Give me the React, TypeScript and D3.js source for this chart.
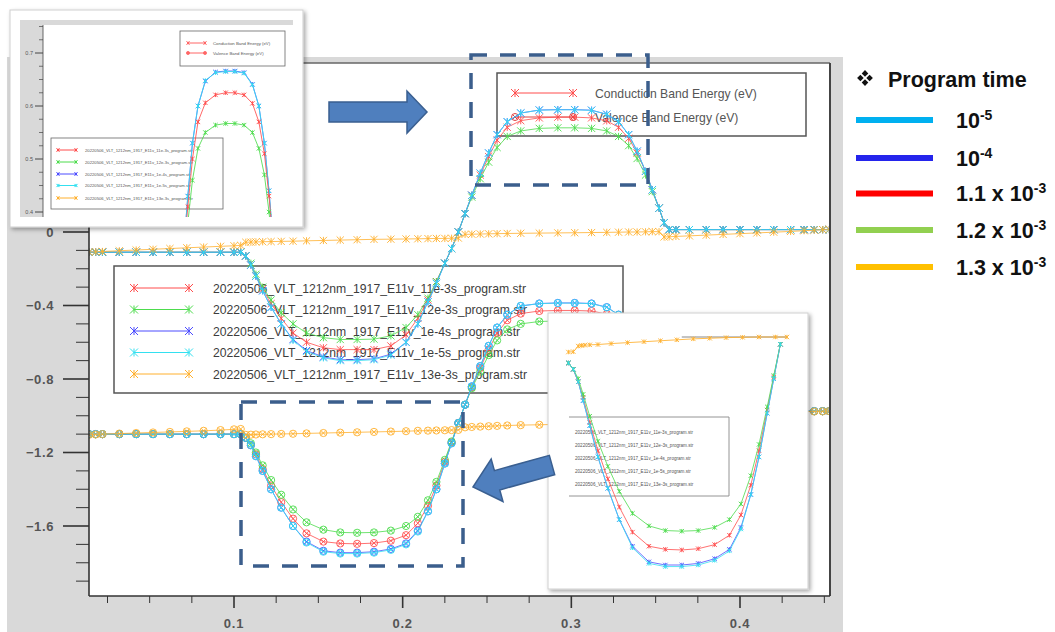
import React from 'react';
import * as d3 from 'd3';

// ---------------- DATA ----------------
const X_MESH = [0.014, 0.018, 0.022, 0.032, 0.042, 0.052, 0.062, 0.072, 0.082, 0.092, 0.1, 0.104,
  0.107, 0.11, 0.113, 0.117, 0.122, 0.128, 0.135, 0.143, 0.153, 0.163, 0.173, 0.183, 0.193, 0.202, 0.209, 0.215, 0.22, 0.225, 0.229, 0.233,
  0.237, 0.241, 0.246, 0.251, 0.256, 0.262, 0.27, 0.281, 0.292, 0.302, 0.312, 0.321, 0.328, 0.334, 0.339, 0.344, 0.348, 0.352, 0.355, 0.358,
  0.362, 0.37, 0.38, 0.39, 0.4, 0.41, 0.42, 0.43, 0.438, 0.444, 0.449, 0.453];

// Conduction band energy (eV)
const CB_11E3 = [-0.11, -0.11, -0.11, -0.11, -0.11, -0.11, -0.11, -0.11, -0.11, -0.11, -0.11, -0.11,
  -0.13, -0.18, -0.24, -0.31, -0.39, -0.47, -0.55, -0.6, -0.63, -0.64, -0.64, -0.64, -0.62, -0.56, -0.47, -0.37, -0.27, -0.17, -0.09, 0.0,
  0.1, 0.2, 0.31, 0.41, 0.5, 0.57, 0.606, 0.621, 0.625, 0.625, 0.621, 0.605, 0.57, 0.51, 0.43, 0.33, 0.23, 0.13, 0.05, 0.013,
  0.013, 0.013, 0.013, 0.013, 0.013, 0.013, 0.013, 0.013, 0.013, 0.013, 0.013, 0.013];
const CB_12E3 = [-0.11, -0.11, -0.11, -0.11, -0.11, -0.11, -0.11, -0.11, -0.11, -0.11, -0.11, -0.11,
  -0.13, -0.17, -0.23, -0.3, -0.37, -0.44, -0.5, -0.55, -0.575, -0.585, -0.585, -0.583, -0.565, -0.52, -0.45, -0.36, -0.27, -0.17, -0.09, 0.0,
  0.1, 0.19, 0.29, 0.38, 0.46, 0.52, 0.55, 0.564, 0.567, 0.567, 0.564, 0.55, 0.52, 0.47, 0.4, 0.31, 0.22, 0.13, 0.05, 0.013,
  0.013, 0.013, 0.013, 0.013, 0.013, 0.013, 0.013, 0.013, 0.013, 0.013, 0.013, 0.013];
const CB_1E4 = [-0.11, -0.11, -0.11, -0.11, -0.11, -0.11, -0.11, -0.11, -0.11, -0.11, -0.11, -0.11,
  -0.13, -0.18, -0.24, -0.32, -0.41, -0.5, -0.585, -0.645, -0.68, -0.695, -0.695, -0.69, -0.665, -0.6, -0.5, -0.38, -0.28, -0.17, -0.09, 0.0,
  0.1, 0.2, 0.32, 0.43, 0.53, 0.6, 0.647, 0.664, 0.666, 0.666, 0.663, 0.641, 0.6, 0.53, 0.44, 0.33, 0.23, 0.13, 0.05, 0.013,
  0.013, 0.013, 0.013, 0.013, 0.013, 0.013, 0.013, 0.013, 0.013, 0.013, 0.013, 0.013];
const CB_1E5 = [-0.11, -0.11, -0.11, -0.11, -0.11, -0.11, -0.11, -0.11, -0.11, -0.11, -0.11, -0.11,
  -0.13, -0.18, -0.24, -0.32, -0.41, -0.5, -0.59, -0.65, -0.685, -0.7, -0.7, -0.695, -0.67, -0.6, -0.5, -0.38, -0.28, -0.17, -0.09, 0.0,
  0.1, 0.2, 0.32, 0.43, 0.53, 0.6, 0.648, 0.663, 0.665, 0.665, 0.662, 0.64, 0.6, 0.53, 0.44, 0.33, 0.23, 0.13, 0.05, 0.013,
  0.013, 0.013, 0.013, 0.013, 0.013, 0.013, 0.013, 0.013, 0.013, 0.013, 0.013, 0.013];
const CB_13E3 = [-0.109, -0.108, -0.106, -0.102, -0.098, -0.094, -0.09, -0.086, -0.082, -0.078, -0.075, -0.073,
  -0.056, -0.055, -0.054, -0.053, -0.052, -0.051, -0.05, -0.048, -0.046, -0.044, -0.042, -0.04, -0.039, -0.038, -0.037, -0.036, -0.035, -0.035, -0.034, -0.033,
  -0.013, -0.012, -0.011, -0.01, -0.009, -0.008, -0.007, -0.006, -0.005, -0.004, -0.003, -0.002, -0.001, 0.0, 0.0, 0.001, 0.002, 0.002, -0.027, -0.026,
  -0.024, -0.021, -0.017, -0.013, -0.009, -0.005, -0.001, 0.003, 0.007, 0.01, 0.013, 0.015];

// Valence band energy (eV)
const VB_11E3 = [-1.1, -1.1, -1.1, -1.1, -1.1, -1.1, -1.1, -1.1, -1.1, -1.1, -1.1, -1.1,
  -1.12, -1.16, -1.21, -1.29, -1.38, -1.47, -1.56, -1.64, -1.685, -1.695, -1.697, -1.693, -1.68, -1.65, -1.585, -1.49, -1.38, -1.25, -1.145, -1.04,
  -0.94, -0.845, -0.74, -0.64, -0.55, -0.48, -0.444, -0.43, -0.427, -0.427, -0.43, -0.447, -0.48, -0.54, -0.62, -0.72, -0.82, -0.92, -0.96, -0.975,
  -0.975, -0.975, -0.975, -0.975, -0.975, -0.975, -0.975, -0.975, -0.975, -0.975, -0.975, -0.975];
const VB_12E3 = [-1.1, -1.1, -1.1, -1.1, -1.1, -1.1, -1.1, -1.1, -1.1, -1.1, -1.1, -1.1,
  -1.12, -1.15, -1.2, -1.27, -1.35, -1.43, -1.51, -1.58, -1.62, -1.635, -1.637, -1.635, -1.625, -1.6, -1.55, -1.46, -1.36, -1.24, -1.14, -1.04,
  -0.94, -0.85, -0.76, -0.67, -0.59, -0.53, -0.5, -0.487, -0.484, -0.484, -0.487, -0.5, -0.53, -0.58, -0.65, -0.74, -0.83, -0.92, -0.96, -0.975,
  -0.975, -0.975, -0.975, -0.975, -0.975, -0.975, -0.975, -0.975, -0.975, -0.975, -0.975, -0.975];
const VB_1E4 = [-1.1, -1.1, -1.1, -1.1, -1.1, -1.1, -1.1, -1.1, -1.1, -1.1, -1.1, -1.1,
  -1.12, -1.16, -1.22, -1.3, -1.4, -1.5, -1.6, -1.685, -1.735, -1.745, -1.745, -1.74, -1.725, -1.695, -1.625, -1.52, -1.4, -1.26, -1.15, -1.04,
  -0.94, -0.84, -0.73, -0.62, -0.52, -0.45, -0.403, -0.389, -0.386, -0.386, -0.389, -0.409, -0.45, -0.52, -0.61, -0.72, -0.82, -0.92, -0.96, -0.975,
  -0.975, -0.975, -0.975, -0.975, -0.975, -0.975, -0.975, -0.975, -0.975, -0.975, -0.975, -0.975];
const VB_1E5 = [-1.1, -1.1, -1.1, -1.1, -1.1, -1.1, -1.1, -1.1, -1.1, -1.1, -1.1, -1.1,
  -1.12, -1.16, -1.22, -1.3, -1.4, -1.5, -1.6, -1.69, -1.74, -1.75, -1.75, -1.745, -1.73, -1.7, -1.63, -1.52, -1.4, -1.26, -1.15, -1.04,
  -0.94, -0.84, -0.73, -0.62, -0.52, -0.45, -0.402, -0.39, -0.387, -0.387, -0.39, -0.41, -0.45, -0.52, -0.61, -0.72, -0.82, -0.92, -0.96, -0.975,
  -0.975, -0.975, -0.975, -0.975, -0.975, -0.975, -0.975, -0.975, -0.975, -0.975, -0.975, -0.975];
const VB_13E3 = [-1.104, -1.102, -1.1, -1.097, -1.094, -1.091, -1.088, -1.085, -1.082, -1.078, -1.074, -1.072,
  -1.104, -1.103, -1.102, -1.101, -1.1, -1.099, -1.098, -1.096, -1.094, -1.092, -1.09, -1.088, -1.086, -1.084, -1.082, -1.081, -1.08, -1.079, -1.078, -1.077,
  -1.063, -1.061, -1.059, -1.057, -1.055, -1.053, -1.051, -1.049, -1.047, -1.046, -1.044, -1.042, -1.04, -1.039, -1.038, -1.037, -1.036, -1.035, -0.995, -0.994,
  -0.993, -0.991, -0.989, -0.987, -0.985, -0.983, -0.981, -0.979, -0.978, -0.977, -0.976, -0.975];

// Orange trace as it appears in the zoomed valence-well picture
const INSET2_ORANGE_X = [0.104, 0.107, 0.11, 0.112, 0.114, 0.117, 0.122, 0.13, 0.14, 0.15, 0.16, 0.17, 0.18, 0.19, 0.2, 0.21, 0.22, 0.23, 0.237];
const INSET2_ORANGE_V = [-1.065, -1.064, -1.046, -1.044, -1.043, -1.042, -1.041, -1.038, -1.035, -1.032, -1.029, -1.026, -1.023, -1.021, -1.019, -1.018, -1.017, -1.017, -1.017];

const FILE_NAMES = [
  '20220506_VLT_1212nm_1917_E11v_11e-3s_program.str',
  '20220506_VLT_1212nm_1917_E11v_12e-3s_program.str',
  '20220506_VLT_1212nm_1917_E11v_1e-4s_program.str',
  '20220506_VLT_1212nm_1917_E11v_1e-5s_program.str',
  '20220506_VLT_1212nm_1917_E11v_13e-3s_program.str',
];
const SERIES_COLORS = ['#ff4d4d', '#4ddc4d', '#4d4dff', '#33e0f0', '#ffb02e'];
const BAND_LABELS = ['Conduction Band Energy (eV)', 'Valence Band Energy (eV)'];

const PROGRAM_TIME_TITLE = 'Program time';
const PROGRAM_TIME_BASE = ['10', '10', '1.1 x 10', '1.2 x 10', '1.3 x 10'];
const PROGRAM_TIME_EXP = ['-5', '-4', '-3', '-3', '-3'];
const PROGRAM_TIME_COLORS = ['#00b0f0', '#2424ec', '#ff0000', '#92d050', '#ffc000'];

const X_TICKS = d3.range(1, 19).map((i) => +(i * 0.025).toFixed(3));
const Y_TICKS = d3.range(-19, 10).map((i) => +(i / 10).toFixed(1));

const CB = [CB_11E3, CB_12E3, CB_1E4, CB_1E5, CB_13E3];
const VB = [VB_11E3, VB_12E3, VB_1E4, VB_1E5, VB_13E3];

// ---------------- helpers ----------------
const FONT = "'Liberation Sans', Arial, sans-serif";

const xMarkPath = (x: number, y: number, s: number) =>
  `M${x - s},${y - s}L${x + s},${y + s}M${x - s},${y + s}L${x + s},${y - s}M${x},${y - s}L${x},${y + s}`;
const oMarkPath = (x: number, y: number, r: number) => {
  const k = r * 0.7;
  return `M${x + r},${y}A${r},${r} 0 1,1 ${x - r},${y}A${r},${r} 0 1,1 ${x + r},${y}` +
    `M${x - k},${y - k}L${x + k},${y + k}M${x - k},${y + k}L${x + k},${y - k}`;
};

type Sc = d3.ScaleLinear<number, number>;

function Trace({ xs, vs, sx, sy, color, kind, size, lw = 1, lineOpacity = 0.8 }:
  { xs: number[]; vs: number[]; sx: Sc; sy: Sc; color: string; kind: 'x' | 'o'; size: number; lw?: number; lineOpacity?: number }) {
  const pts = xs.map((x, i) => [x, vs[i]] as [number, number]);
  const line = d3.line<[number, number]>().x((d) => sx(d[0])).y((d) => sy(d[1]));
  const marks = pts.map((d) => (kind === 'x' ? xMarkPath(sx(d[0]), sy(d[1]), size) : oMarkPath(sx(d[0]), sy(d[1]), size))).join('');
  return (
    <g>
      <path d={line(pts) || ''} fill="none" stroke={color} strokeWidth={lw} strokeOpacity={lineOpacity} />
      <path d={marks} fill="none" stroke={color} strokeWidth={lw} strokeOpacity={0.9} />
    </g>
  );
}

function LegendSymbol({ x0, x1, y, color, kind, size }: { x0: number; x1: number; y: number; color: string; kind: 'x' | 'o'; size: number }) {
  const m = kind === 'x' ? xMarkPath(x0, y, size) + xMarkPath(x1, y, size) : oMarkPath(x0, y, size) + oMarkPath(x1, y, size);
  return (
    <g>
      <line x1={x0} x2={x1} y1={y} y2={y} stroke={color} strokeWidth={1} />
      <path d={m} fill="none" stroke={color} strokeWidth={1} />
    </g>
  );
}

function blockArrow(tail: [number, number], tip: [number, number], shaftHalf: number, headHalf: number, headLen: number) {
  const dx = tip[0] - tail[0];
  const dy = tip[1] - tail[1];
  const L = Math.hypot(dx, dy);
  const ux = dx / L, uy = dy / L;
  const nx = -uy, ny = ux;
  const hb: [number, number] = [tip[0] - ux * headLen, tip[1] - uy * headLen];
  const p = [
    [tail[0] + nx * shaftHalf, tail[1] + ny * shaftHalf],
    [hb[0] + nx * shaftHalf, hb[1] + ny * shaftHalf],
    [hb[0] + nx * headHalf, hb[1] + ny * headHalf],
    tip,
    [hb[0] - nx * headHalf, hb[1] - ny * headHalf],
    [hb[0] - nx * shaftHalf, hb[1] - ny * shaftHalf],
    [tail[0] - nx * shaftHalf, tail[1] - ny * shaftHalf],
  ];
  return p.map((q) => q.join(',')).join(' ');
}

// ---------------- App ----------------
export default function App() {
  // main plot
  const P = { x0: 89, y0: 63, x1: 830, y1: 596 };
  const xMain = d3.scaleLinear().domain([0.1, 0.4]).range([234, 740]);
  const yMain = d3.scaleLinear().domain([0, -1.6]).range([232, 526]);

  // inset 1 (zoom of conduction-band peak)
  const I1 = { x0: 43, y0: 25, x1: 293, y1: 217 };
  const xI1 = d3.scaleLinear().domain([0.094, 0.365]).range([43, 293]);
  const yI1 = d3.scaleLinear().domain([0.4, 0.7]).range([212, 53]);
  const I1_TICKS = d3.range(0, 15).map((i) => +(0.4 + i * 0.025).toFixed(3));

  // inset 2 (zoom of valence-band well)
  const xI2 = d3.scaleLinear().domain([0.104, 0.234]).range([568.4, 782]);
  const yI2 = d3.scaleLinear().domain([-1.1, -1.745]).range([363, 565]);
  const wellIdx = X_MESH.map((x, i) => i).filter((i) => X_MESH[i] >= 0.104 && X_MESH[i] <= 0.2335);

  const legendRows = [288, 309.5, 331, 352.5, 374];
  const inset1Rows = [150, 162, 174, 185.5, 198];
  const inset2Rows = [432, 445, 458, 471, 484];
  const ptRows = [120, 158, 193.5, 230, 267];

  const dash = { stroke: '#3b5e8c', strokeWidth: 3.5, strokeDasharray: '16 13', fill: 'none' };

  return (
    <svg width={1055} height={632} style={{ position: 'absolute', left: 0, top: 0, fontFamily: FONT }}>
      <defs>
        <clipPath id="clipMain"><rect x={P.x0} y={P.y0} width={P.x1 - P.x0} height={P.y1 - P.y0} /></clipPath>
        <clipPath id="clipI1"><rect x={I1.x0} y={I1.y0} width={I1.x1 - I1.x0} height={I1.y1 - I1.y0} /></clipPath>
        <clipPath id="clipI2"><rect x={550} y={315} width={256} height={272} /></clipPath>
        <filter id="shadow" x="-10%" y="-10%" width="125%" height="125%">
          <feDropShadow dx="2" dy="2" stdDeviation="2.2" floodColor="#000" floodOpacity="0.35" />
        </filter>
      </defs>

      <rect x={0} y={0} width={1055} height={632} fill="#fff" />
      {/* gray frame of simulation window */}
      <rect x={7} y={57} width={836} height={575} fill="#d9d9d9" />
      <rect x={P.x0} y={P.y0} width={P.x1 - P.x0} height={P.y1 - P.y0} fill="#fff" />

      {/* axes ticks */}
      {Y_TICKS.map((v) => {
        const y = yMain(v);
        const major = Math.round(v * 10) % 4 === 0;
        return (
          <g key={'yt' + v}>
            <line x1={major ? 63 : 76} x2={P.x0} y1={y} y2={y} stroke="#333" strokeWidth={major ? 1.6 : 1} />
            {major && (
              <text x={54} y={y + 4.5} textAnchor="end" fontSize={13} fontWeight="bold" fill="#555" letterSpacing={0.6}>
                {v === 0 ? '0' : d3.format('.1f')(v)}
              </text>
            )}
          </g>
        );
      })}
      {X_TICKS.map((v, i) => {
        const x = xMain(v);
        const major = (i + 1) % 4 === 0;
        return (
          <g key={'xt' + v}>
            <line x1={x} x2={x} y1={P.y1} y2={major ? 608 : 603} stroke="#333" strokeWidth={major ? 1.6 : 1} />
            {major && (
              <text x={x} y={628} textAnchor="middle" fontSize={13} fontWeight="bold" fill="#555" letterSpacing={0.8}>
                {d3.format('.1f')(v)}
              </text>
            )}
          </g>
        );
      })}

      {/* legends in main plot */}
      <rect x={114} y={266} width={509} height={127} fill="none" stroke="#555" strokeWidth={1.5} />
      {FILE_NAMES.map((n, i) => (
        <g key={'lg' + i}>
          <LegendSymbol x0={134} x1={189} y={legendRows[i]} color={SERIES_COLORS[i]} kind="x" size={4} />
          <text x={213} y={legendRows[i] + 4.5} fontSize={12.2} fill="#3c3c3c">{n}</text>
        </g>
      ))}
      <rect x={497} y={73} width={309} height={63} fill="none" stroke="#555" strokeWidth={1.5} />
      <LegendSymbol x0={515} x1={573} y={93} color="#ff4d4d" kind="x" size={4} />
      <text x={595} y={97.5} fontSize={12.2} fill="#555">{BAND_LABELS[0]}</text>
      <LegendSymbol x0={515} x1={573} y={117} color="#e04040" kind="o" size={3.5} />
      <text x={595} y={121.5} fontSize={12.2} fill="#555">{BAND_LABELS[1]}</text>

      {/* curves */}
      <g clipPath="url(#clipMain)">
        {CB.map((c, i) => (
          <g key={'s' + i}>
            <Trace xs={X_MESH} vs={c} sx={xMain} sy={yMain} color={SERIES_COLORS[i]} kind="x" size={3.6} />
            <Trace xs={X_MESH} vs={VB[i]} sx={xMain} sy={yMain} color={SERIES_COLORS[i]} kind="o" size={3.6} />
          </g>
        ))}
      </g>

      {/* plot frame */}
      <line x1={P.x0} x2={P.x1} y1={P.y0} y2={P.y0} stroke="#666" strokeWidth={1.5} />
      <line x1={P.x1} x2={P.x1} y1={P.y0} y2={P.y1} stroke="#444" strokeWidth={2} />
      <line x1={P.x0} x2={P.x0} y1={P.y0} y2={P.y1} stroke="#333" strokeWidth={1.6} />
      <line x1={P.x0} x2={P.x1} y1={P.y1} y2={P.y1} stroke="#333" strokeWidth={1.6} />

      {/* ---------- inset 1 ---------- */}
      <rect x={10} y={10} width={293} height={217} fill="#fff" stroke="#cfcfcf" strokeWidth={1} filter="url(#shadow)" />
      <rect x={20} y={20} width={273} height={197} fill="#d9d9d9" />
      <rect x={I1.x0} y={I1.y0} width={I1.x1 - I1.x0} height={I1.y1 - I1.y0} fill="#fff" />
      <line x1={I1.x0} x2={I1.x0} y1={I1.y0} y2={I1.y1} stroke="#444" strokeWidth={0.8} />
      {I1_TICKS.map((v, i) => {
        const y = yI1(v);
        const major = i % 4 === 0;
        return (
          <g key={'i1t' + i}>
            <line x1={major ? 35 : 39} x2={I1.x0} y1={y} y2={y} stroke="#444" strokeWidth={major ? 1 : 0.7} />
            {major && <text x={33} y={y + 1.8} textAnchor="end" fontSize={5.5} fill="#555">{d3.format('.1f')(v)}</text>}
          </g>
        );
      })}
      <rect x={180} y={31} width={105} height={35} fill="none" stroke="#666" strokeWidth={0.8} />
      <LegendSymbol x0={188} x1={205} y={43} color="#ff6666" kind="x" size={1.6} />
      <text x={213} y={44.5} fontSize={4.3} fill="#555">{BAND_LABELS[0]}</text>
      <LegendSymbol x0={188} x1={205} y={53} color="#ff6666" kind="o" size={1.5} />
      <text x={213} y={54.5} fontSize={4.3} fill="#555">{BAND_LABELS[1]}</text>
      <rect x={51} y={138} width={172} height={71} fill="none" stroke="#666" strokeWidth={0.8} />
      {FILE_NAMES.map((n, i) => (
        <g key={'i1l' + i}>
          <LegendSymbol x0={58} x1={76} y={inset1Rows[i]} color={SERIES_COLORS[i]} kind="x" size={1.6} />
          <text x={85} y={inset1Rows[i] + 1.5} fontSize={4.2} fill="#555">{n}</text>
        </g>
      ))}
      <g clipPath="url(#clipI1)">
        {[2, 3, 0, 1].map((i) => (
          <Trace key={'i1s' + i} xs={X_MESH} vs={CB[i]} sx={xI1} sy={yI1} color={SERIES_COLORS[i]} kind="x" size={2.2} lineOpacity={0.85} />
        ))}
      </g>

      {/* ---------- inset 2 ---------- */}
      <rect x={548} y={313} width={260} height={276} fill="#fff" stroke="#d0d0d0" strokeWidth={1} filter="url(#shadow)" />
      <line x1={569} x2={729} y1={417} y2={417} stroke="#888" strokeWidth={0.9} />
      <line x1={729} x2={729} y1={417} y2={496} stroke="#888" strokeWidth={0.9} />
      <line x1={569} x2={729} y1={496} y2={496} stroke="#888" strokeWidth={0.9} />
      {FILE_NAMES.map((n, i) => (
        <text key={'i2l' + i} x={575} y={inset2Rows[i] + 1.6} fontSize={4.6} fill="#555">{n}</text>
      ))}
      <g clipPath="url(#clipI2)">
        <line x1={xI2(0.173)} x2={xI2(0.237)} y1={yI2(-1.017)} y2={yI2(-1.017)} stroke="#888" strokeWidth={1} />
        <Trace xs={INSET2_ORANGE_X} vs={INSET2_ORANGE_V} sx={xI2} sy={yI2} color="#ffb02e" kind="x" size={2.2} lineOpacity={0.85} />
        {[2, 0, 1, 3].map((i) => (
          <Trace key={'i2s' + i} xs={wellIdx.map((k) => X_MESH[k])} vs={wellIdx.map((k) => VB[i][k])} sx={xI2} sy={yI2}
            color={SERIES_COLORS[i]} kind="x" size={2.2} lineOpacity={0.8} />
        ))}
      </g>

      {/* dashed highlight boxes */}
      <rect x={471} y={55} width={177} height={130} {...dash} />
      <rect x={241} y={402} width={222} height={164} {...dash} />

      {/* arrows */}
      <polygon points={blockArrow([329, 112], [427, 112], 10, 21, 20)} fill="#4f7fbe" stroke="#3a5f90" strokeWidth={1.5} />
      <polygon points={blockArrow([552, 465], [473, 487], 10, 22, 25)} fill="#4f7fbe" stroke="#3a5f90" strokeWidth={1.5} />

      {/* ---------- right legend: program time ---------- */}
      <g fill="#111">
        {[[-4.6, 0], [4.6, 0], [0, -4.6], [0, 4.6]].map((o, i) => {
          const cx = 865 + o[0], cy = 78 + o[1], s = 3.3;
          return <path key={'dm' + i} d={`M${cx},${cy - s}L${cx + s},${cy}L${cx},${cy + s}L${cx - s},${cy}Z`} />;
        })}
      </g>
      <text x={888} y={87} fontSize={21.5} fontWeight="bold" fill="#111">{PROGRAM_TIME_TITLE}</text>
      {PROGRAM_TIME_BASE.map((b, i) => (
        <g key={'pt' + i}>
          <line x1={856} x2={933} y1={ptRows[i]} y2={ptRows[i]} stroke={PROGRAM_TIME_COLORS[i]} strokeWidth={6} />
          <text x={956} y={ptRows[i] + 7.5} fontSize={21.5} fontWeight="bold" fill="#111">
            {b}
            <tspan dy={-8} fontSize={14}>{PROGRAM_TIME_EXP[i]}</tspan>
          </text>
        </g>
      ))}
    </svg>
  );
}
